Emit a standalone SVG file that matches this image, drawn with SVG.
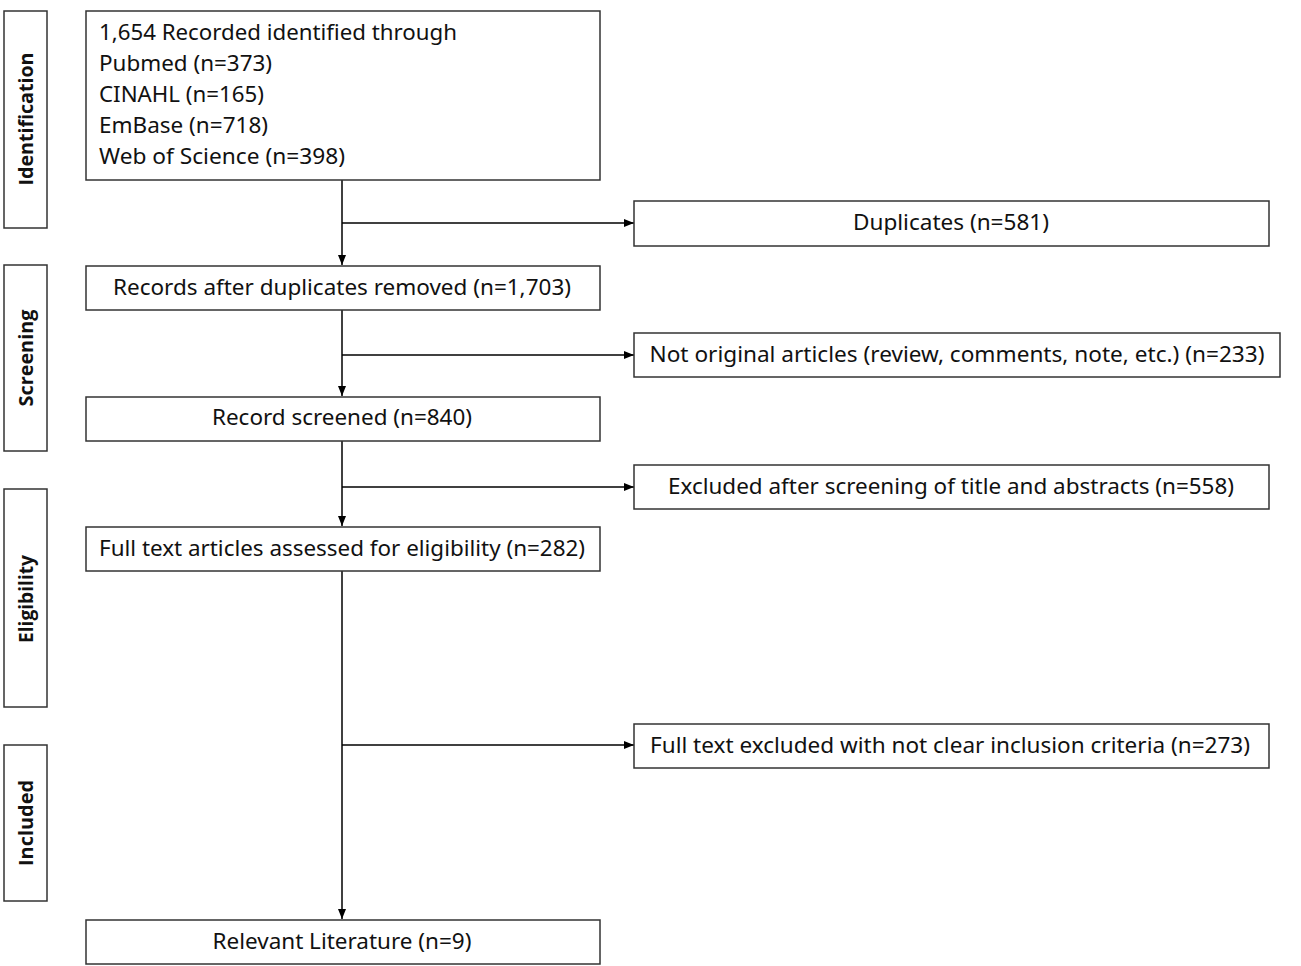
<svg xmlns="http://www.w3.org/2000/svg" width="1301" height="966" viewBox="0 0 1301 966">
<defs>
<marker id="ah" viewBox="0 0 10 10" refX="10" refY="5" markerWidth="10" markerHeight="10" markerUnits="userSpaceOnUse" orient="auto">
<path d="M0,1 L10,5 L0,9 Z" fill="#000"/>
</marker>
<style>
.box{fill:#fff;stroke:#333;stroke-width:1.5}
.t{font-family:"Noto Sans","Open Sans",sans-serif;font-size:21px;fill:#111}
.side{font-family:"Open Sans","Noto Sans",sans-serif;font-size:19px;font-weight:bold;fill:#111}
.c{fill:none;stroke:#000;stroke-width:1.5}
</style>
</defs>
<rect width="1301" height="966" fill="#fff"/>
<g id="stage-identification">
<rect class="box" x="4" y="11" width="43" height="217"/>
<text class="side" transform="translate(33,119) rotate(-90)" text-anchor="middle" textLength="133" lengthAdjust="spacingAndGlyphs">Identification</text>
</g>
<g id="stage-screening">
<rect class="box" x="4" y="265" width="43" height="186"/>
<text class="side" transform="translate(33,358) rotate(-90)" text-anchor="middle" textLength="97" lengthAdjust="spacingAndGlyphs">Screening</text>
</g>
<g id="stage-eligibility">
<rect class="box" x="4" y="489" width="43" height="218"/>
<text class="side" transform="translate(33,599) rotate(-90)" text-anchor="middle" textLength="88" lengthAdjust="spacingAndGlyphs">Eligibility</text>
</g>
<g id="stage-included">
<rect class="box" x="4" y="745" width="43" height="156"/>
<text class="side" transform="translate(33,823) rotate(-90)" text-anchor="middle" textLength="86" lengthAdjust="spacingAndGlyphs">Included</text>
</g>
<g id="connectors">
<line class="c" x1="342" y1="180" x2="342" y2="265" marker-end="url(#ah)"/>
<line class="c" x1="342" y1="223" x2="634" y2="223" marker-end="url(#ah)"/>
<line class="c" x1="342" y1="310" x2="342" y2="396" marker-end="url(#ah)"/>
<line class="c" x1="342" y1="355" x2="634" y2="355" marker-end="url(#ah)"/>
<line class="c" x1="342" y1="441" x2="342" y2="526" marker-end="url(#ah)"/>
<line class="c" x1="342" y1="487" x2="634" y2="487" marker-end="url(#ah)"/>
<line class="c" x1="342" y1="571" x2="342" y2="919" marker-end="url(#ah)"/>
<line class="c" x1="342" y1="745" x2="634" y2="745" marker-end="url(#ah)"/>
</g>
<g id="n-identified">
<rect class="box" x="86" y="11" width="514" height="169"/>
<text class="t" x="99" y="40" textLength="358" lengthAdjust="spacingAndGlyphs">1,654 Recorded identified  through</text>
<text class="t" x="99" y="71" textLength="173" lengthAdjust="spacingAndGlyphs">Pubmed (n=373)</text>
<text class="t" x="99" y="102" textLength="165" lengthAdjust="spacingAndGlyphs">CINAHL (n=165)</text>
<text class="t" x="99" y="133" textLength="169" lengthAdjust="spacingAndGlyphs">EmBase (n=718)</text>
<text class="t" x="99" y="164" textLength="246" lengthAdjust="spacingAndGlyphs">Web of Science (n=398)</text>
</g>
<g id="n-duplicates">
<rect class="box" x="634" y="201" width="635" height="45"/>
<text class="t" x="951" y="230" text-anchor="middle" textLength="196" lengthAdjust="spacingAndGlyphs">Duplicates (n=581)</text>
</g>
<g id="n-after-duplicates">
<rect class="box" x="86" y="266" width="514" height="44"/>
<text class="t" x="342" y="295" text-anchor="middle" textLength="458" lengthAdjust="spacingAndGlyphs">Records after duplicates removed (n=1,703)</text>
</g>
<g id="n-not-original">
<rect class="box" x="634" y="333" width="646" height="44"/>
<text class="t" x="957" y="362" text-anchor="middle" textLength="615" lengthAdjust="spacingAndGlyphs">Not original articles (review, comments, note, etc.) (n=233)</text>
</g>
<g id="n-screened">
<rect class="box" x="86" y="397" width="514" height="44"/>
<text class="t" x="342" y="425" text-anchor="middle" textLength="260" lengthAdjust="spacingAndGlyphs">Record screened (n=840)</text>
</g>
<g id="n-excluded-title">
<rect class="box" x="634" y="465" width="635" height="44"/>
<text class="t" x="951" y="494" text-anchor="middle" textLength="566" lengthAdjust="spacingAndGlyphs">Excluded after screening of title and abstracts (n=558)</text>
</g>
<g id="n-fulltext">
<rect class="box" x="86" y="527" width="514" height="44"/>
<text class="t" x="342" y="556" text-anchor="middle" textLength="486" lengthAdjust="spacingAndGlyphs">Full text articles assessed for eligibility (n=282)</text>
</g>
<g id="n-fulltext-excluded">
<rect class="box" x="634" y="724" width="635" height="44"/>
<text class="t" x="950" y="753" text-anchor="middle" textLength="600" lengthAdjust="spacingAndGlyphs">Full text excluded with not clear inclusion criteria (n=273)</text>
</g>
<g id="n-relevant">
<rect class="box" x="86" y="920" width="514" height="44"/>
<text class="t" x="342" y="949" text-anchor="middle" textLength="259" lengthAdjust="spacingAndGlyphs">Relevant Literature (n=9)</text>
</g>
</svg>
